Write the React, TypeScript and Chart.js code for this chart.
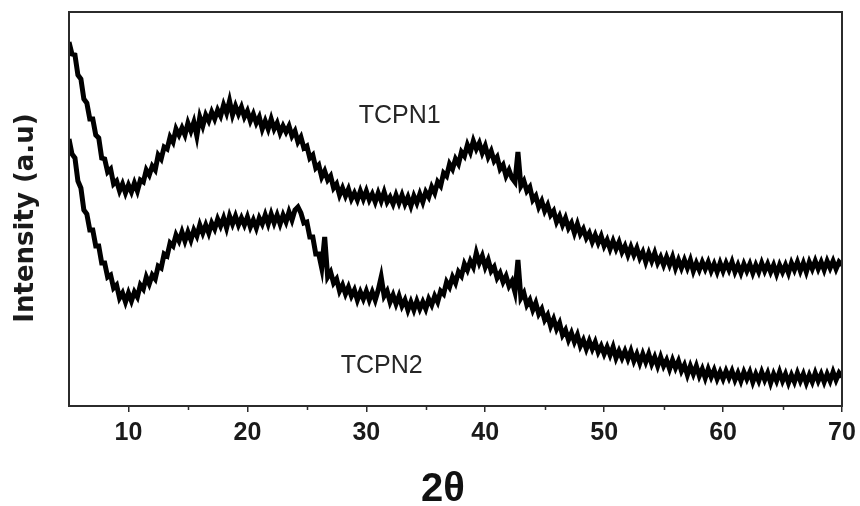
import { useEffect, useRef } from "react";
import { Chart, registerables } from "chart.js";

Chart.register(...registerables);

// 2θ grid of the scan: start angle and step (degrees)
const scanStart = 5;
const scanStep = 0.25;

const xMin = 5;
const xMax = 70;
const majorTicks = [10, 20, 30, 40, 50, 60, 70];
const minorTicks = [15, 25, 35, 45, 55, 65];

const seriesNames = ["TCPN1", "TCPN2"];
const xTitle = "2θ";
const yTitle = "Intensity (a.u)";

// Intensity (a.u.), one value per 0.25° from 5° to 70°
const tcpn1 = [
  364, 352, 351, 331, 327, 307, 303, 287, 287, 271, 268, 248, 247, 234, 237, 222, 225, 215, 222, 213,
  221, 214, 223, 215, 226, 224, 236, 231, 240, 236, 251, 247, 259, 257, 269, 264, 277, 271, 278, 271,
  283, 275, 284, 270, 289, 280, 291, 285, 294, 287, 296, 290, 301, 293, 305, 291, 300, 292, 299, 289,
  295, 285, 292, 283, 289, 277, 285, 277, 287, 277, 283, 273, 280, 274, 280, 270, 275, 264, 269, 258,
  260, 248, 251, 238, 241, 229, 235, 226, 230, 218, 222, 211, 218, 210, 217, 207, 213, 206, 215, 207,
  215, 206, 212, 204, 213, 205, 214, 204, 209, 202, 211, 203, 211, 202, 209, 200, 210, 203, 212, 204,
  214, 209, 219, 213, 224, 220, 233, 230, 242, 237, 247, 242, 254, 250, 261, 254, 265, 257, 263, 253,
  260, 249, 255, 245, 249, 237, 241, 230, 236, 228, 224, 254, 220, 225, 215, 219, 206, 210, 199, 205,
  195, 201, 191, 195, 184, 190, 181, 188, 178, 183, 173, 182, 172, 177, 168, 173, 164, 171, 163, 170,
  160, 166, 157, 165, 157, 164, 154, 160, 151, 159, 151, 158, 148, 154, 144, 153, 145, 153, 143, 149,
  141, 149, 141, 149, 138, 146, 138, 146, 138, 146, 135, 143, 136, 144, 137, 144, 135, 142, 134, 143,
  135, 143, 136, 144, 134, 141, 133, 142, 135, 142, 133, 141, 134, 143, 135, 142, 134, 141, 132, 141,
  134, 141, 133, 143, 136, 144, 135, 143, 134, 144, 137, 145, 137, 144, 136, 145, 138, 145, 137, 144,
  141,
];

const tcpn2 = [
  267, 252, 248, 225, 218, 196, 192, 176, 176, 160, 160, 143, 143, 129, 131, 118, 121, 108, 113, 104,
  113, 105, 114, 109, 121, 117, 129, 122, 131, 127, 140, 138, 152, 150, 163, 160, 171, 165, 174, 165,
  174, 166, 176, 170, 181, 173, 181, 173, 183, 177, 187, 180, 188, 178, 190, 182, 190, 181, 188, 181,
  189, 179, 186, 178, 188, 182, 191, 182, 192, 183, 191, 182, 191, 184, 194, 186, 196, 199, 193, 183,
  184, 169, 169, 152, 152, 138, 169, 129, 134, 123, 127, 115, 121, 112, 119, 110, 116, 106, 114, 107,
  115, 106, 114, 106, 116, 129, 110, 115, 104, 111, 102, 110, 100, 106, 96, 104, 96, 105, 97, 104,
  97, 107, 101, 110, 104, 115, 112, 124, 119, 129, 123, 134, 130, 142, 136, 145, 139, 153, 143, 150,
  139, 146, 135, 139, 128, 133, 124, 130, 120, 125, 114, 146, 108, 113, 101, 106, 96, 103, 92, 97,
  86, 91, 80, 87, 77, 83, 71, 76, 66, 73, 64, 71, 60, 66, 57, 65, 57, 64, 54, 60,
  52, 59, 51, 59, 48, 55, 48, 55, 47, 55, 45, 52, 43, 52, 44, 52, 42, 49, 40, 49,
  40, 46, 37, 46, 38, 45, 35, 41, 31, 40, 32, 40, 30, 37, 28, 37, 29, 36, 27, 34,
  27, 35, 28, 35, 26, 33, 25, 34, 27, 34, 24, 32, 25, 34, 26, 33, 23, 32, 25, 34,
  25, 32, 23, 31, 24, 33, 25, 32, 23, 31, 24, 33, 25, 32, 24, 32, 25, 34, 26, 33,
  29,
];

// where the series names sit, in data coordinates [2θ, intensity]
const labelAnchors = [
  [32.8, 283],
  [31.3, 33],
];

const yMin = 0;
const yMax = 394;

const toPoints = (vals: number[]) =>
  vals.map((v, i) => ({ x: scanStart + i * scanStep, y: v }));

const decorPlugin = {
  id: "decor",
  afterDraw(chart: any) {
    const { ctx, chartArea: a, scales } = chart;
    const x = scales.x;
    const y = scales.y;
    ctx.save();
    // frame
    ctx.strokeStyle = "#2b2b2b";
    ctx.lineWidth = 2;
    ctx.strokeRect(a.left, a.top, a.right - a.left, a.bottom - a.top);
    // minor ticks
    ctx.lineWidth = 1.5;
    ctx.beginPath();
    for (const t of minorTicks) {
      const px = Math.round(x.getPixelForValue(t)) + 0.5;
      ctx.moveTo(px, a.bottom);
      ctx.lineTo(px, a.bottom + 4);
    }
    ctx.stroke();
    // series names
    ctx.fillStyle = "#262626";
    ctx.font = "25px 'Liberation Sans', Arial, sans-serif";
    ctx.textAlign = "center";
    ctx.textBaseline = "alphabetic";
    seriesNames.forEach((name, i) => {
      const [lx, ly] = labelAnchors[i];
      ctx.fillText(name, x.getPixelForValue(lx), y.getPixelForValue(ly));
    });
    // x title
    ctx.fillStyle = "#111";
    ctx.font = "bold 40px 'Liberation Sans', Arial, sans-serif";
    ctx.fillText(xTitle, 443, 501);
    // y title
    ctx.translate(33, 218);
    ctx.rotate(-Math.PI / 2);
    ctx.font = "bold 26px 'DejaVu Sans', sans-serif";
    ctx.fillStyle = "#1a1a1a";
    ctx.fillText(yTitle, 0, 0);
    ctx.restore();
  },
};

export default function App() {
  const ref = useRef<HTMLCanvasElement | null>(null);

  useEffect(() => {
    document.body.style.margin = "0";
    const canvas = ref.current;
    if (!canvas) return;
    const lineStyle = {
      borderColor: "#000",
      borderWidth: 5,
      borderJoinStyle: "miter" as const,
      pointRadius: 0,
      tension: 0,
    };
    const chart = new Chart(canvas, {
      type: "line",
      data: {
        datasets: [
          { label: seriesNames[0], data: toPoints(tcpn1), ...lineStyle },
          { label: seriesNames[1], data: toPoints(tcpn2), ...lineStyle },
        ],
      },
      options: {
        responsive: false,
        animation: false,
        events: [],
        layout: { padding: { left: 69, right: 18, top: 12, bottom: 0 } },
        plugins: {
          legend: { display: false },
          tooltip: { enabled: false },
        },
        scales: {
          x: {
            type: "linear",
            min: xMin,
            max: xMax,
            afterBuildTicks: (scale: any) => {
              scale.ticks = majorTicks.map((v) => ({ value: v }));
            },
            afterFit: (scale: any) => {
              scale.height = 100;
              scale.paddingLeft = 0;
              scale.paddingRight = 0;
            },
            border: { display: false },
            grid: {
              display: true,
              drawOnChartArea: false,
              drawTicks: true,
              tickLength: 6,
              color: "#2b2b2b",
              lineWidth: 1.5,
            },
            ticks: {
              autoSkip: false,
              maxRotation: 0,
              padding: 6,
              color: "#1a1a1a",
              font: {
                family: "'Liberation Sans', Arial, sans-serif",
                weight: "bold",
                size: 25,
              },
            },
          },
          y: {
            display: false,
            min: yMin,
            max: yMax,
          },
        },
      },
      plugins: [decorPlugin],
    });
    return () => chart.destroy();
  }, []);

  return (
    <div style={{ width: 860, height: 506, background: "#fff" }}>
      <canvas ref={ref} width={860} height={506} style={{ display: "block" }} />
    </div>
  );
}
